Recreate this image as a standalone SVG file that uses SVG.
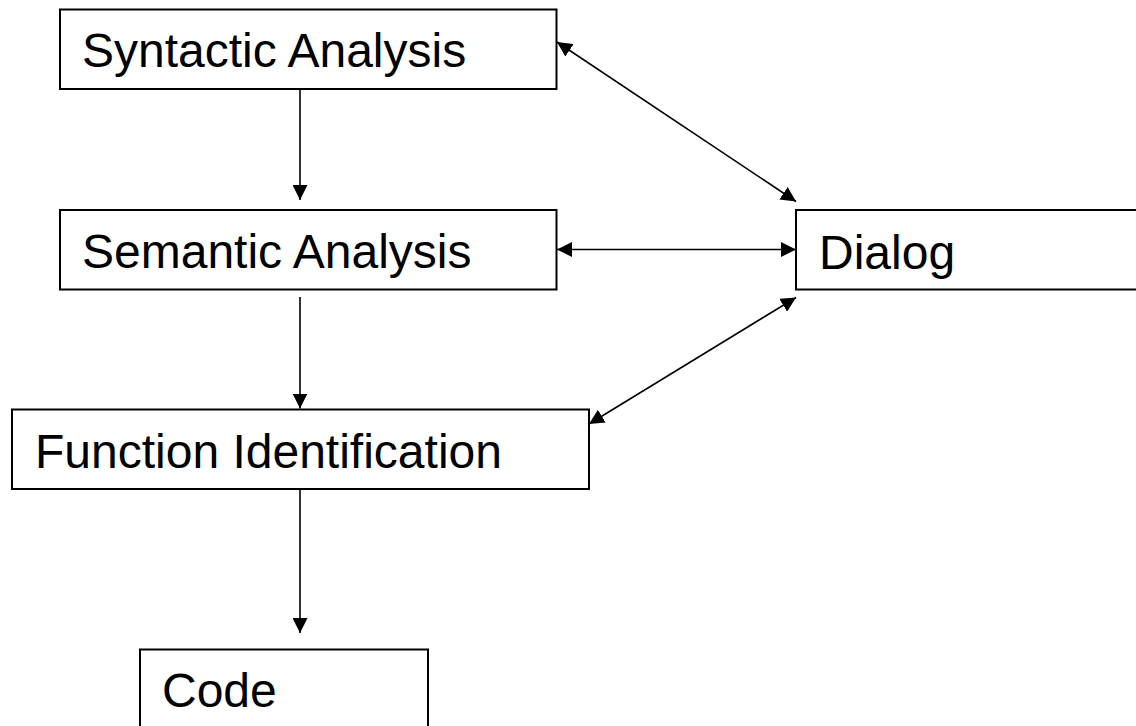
<svg xmlns="http://www.w3.org/2000/svg" width="1136" height="726" viewBox="0 0 1136 726">
  <style>
    .box { fill: #ffffff; stroke: #000000; stroke-width: 2; }
    .lbl { font-family: "Liberation Sans", Arial, sans-serif; font-size: 48px; fill: #000000; }
    .conn { stroke: #000000; stroke-width: 1.6; fill: none; }
  </style>
  <defs>
    <marker id="ah" markerUnits="userSpaceOnUse" markerWidth="15" markerHeight="15" viewBox="0 0 14 14" refX="14" refY="7" orient="auto-start-reverse">
      <path d="M0,0 L14,7 L0,14 Z" fill="#000000"/>
    </marker>
  </defs>
  <rect width="1136" height="726" fill="#ffffff"/>

  <g id="syntactic">
    <rect class="box" x="60" y="9.5" width="496.5" height="79.5"/>
    <text class="lbl" x="82" y="66.5">Syntactic Analysis</text>
  </g>
  <g id="semantic">
    <rect class="box" x="60" y="210" width="496.5" height="79.5"/>
    <text class="lbl" x="82" y="268">Semantic Analysis</text>
  </g>
  <g id="function">
    <rect class="box" x="12" y="409.5" width="577" height="79.5"/>
    <text class="lbl" x="35" y="467.5">Function Identification</text>
  </g>
  <g id="code">
    <rect class="box" x="140" y="649.5" width="288" height="100"/>
    <text class="lbl" x="162" y="706.5">Code</text>
  </g>
  <g id="dialog">
    <rect class="box" x="796" y="210" width="360" height="79.5"/>
    <text class="lbl" x="819" y="269">Dialog</text>
  </g>

  <g id="connectors">
    <line class="conn" x1="300" y1="90" x2="300" y2="200" marker-end="url(#ah)"/>
    <line class="conn" x1="300" y1="297" x2="300" y2="408.5" marker-end="url(#ah)"/>
    <line class="conn" x1="300" y1="490" x2="300" y2="633" marker-end="url(#ah)"/>
    <line class="conn" x1="557" y1="42" x2="796" y2="201.5" marker-start="url(#ah)" marker-end="url(#ah)"/>
    <line class="conn" x1="557" y1="249.5" x2="796" y2="249.5" marker-start="url(#ah)" marker-end="url(#ah)"/>
    <line class="conn" x1="589" y1="424" x2="796" y2="297.5" marker-start="url(#ah)" marker-end="url(#ah)"/>
  </g>
</svg>
